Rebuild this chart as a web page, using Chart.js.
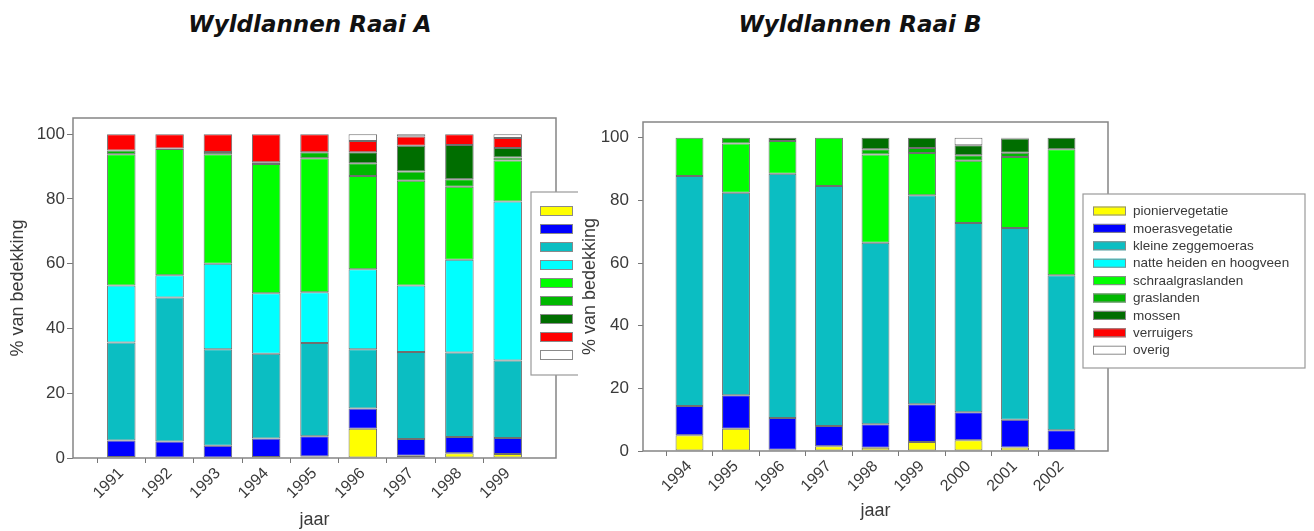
<!DOCTYPE html>
<html>
<head>
<meta charset="utf-8">
<script src="https://cdn.jsdelivr.net/npm/chart.js@4.4.1/dist/chart.umd.min.js"></script>
<style>
  html, body { margin: 0; padding: 0; background: #fff; }
  #wrap { position: relative; width: 1314px; height: 531px; overflow: hidden; }
  .title { position: absolute; top: 11px; line-height: 26px; font: italic bold 23px "DejaVu Sans", sans-serif; color: #111; white-space: nowrap; transform: translateX(-50%); }
  #cA { position: absolute; left: 0; top: 0; }
  #cB { position: absolute; left: 578px; top: 0; }
</style>
</head>
<body>
<div id="wrap">
  <div class="title" style="left:310px">Wyldlannen Raai A</div>
  <div class="title" style="left:860px">Wyldlannen Raai B</div>
  <canvas id="cA" width="578" height="531"></canvas>
  <canvas id="cB" width="736" height="531"></canvas>
</div>
<script>
// ---- categories (vegetation types, bottom to top of each stack) ----
const categories = ['pioniervegetatie', 'moerasvegetatie', 'kleine zeggemoeras', 'natte heiden en hoogveen',
                    'schraalgraslanden', 'graslanden', 'mossen', 'verruigers', 'overig'];
const colors = ['#FFFF00', '#0000FF', '#0BBEC2', '#00FFFF', '#00FF00', '#00B800', '#006E00', '#FF0000', '#FFFFFF'];

// ---- Raai A ----
const yearsA = ['1991', '1992', '1993', '1994', '1995', '1996', '1997', '1998', '1999'];
const A_pionier = [0.3, 0, 0, 0.3, 0.5, 9.0, 0.7, 1.5, 1.2];
const A_moeras  = [5.1, 5.1, 3.8, 5.7, 6.2, 6.3, 5.2, 5.0, 5.0];
const A_kleine  = [30.3, 44.5, 29.8, 26.2, 28.8, 18.3, 26.8, 26.1, 23.9];
const A_natte   = [17.6, 6.8, 26.4, 18.7, 15.7, 24.7, 20.6, 28.6, 49.1];
const A_schraal = [40.5, 39.0, 33.8, 39.9, 41.4, 28.8, 32.3, 22.6, 12.7];
const A_gras    = [1.2, 0.2, 0.7, 0.5, 1.8, 3.9, 2.9, 2.3, 0.9];
const A_mossen  = [0, 0, 0, 0, 0, 3.4, 7.9, 10.6, 2.9];
const A_verr    = [5.0, 4.4, 5.5, 8.7, 5.6, 3.5, 2.9, 3.3, 3.1];
const A_overig  = [0, 0, 0, 0, 0, 2.1, 0.7, 0, 1.2];

// ---- Raai B ----
const yearsB = ['1994', '1995', '1996', '1997', '1998', '1999', '2000', '2001', '2002'];
const B_pionier = [5.0, 7.1, 0.4, 1.5, 1.0, 2.9, 3.4, 1.1, 0.2];
const B_moeras  = [9.4, 10.7, 10.1, 6.5, 7.5, 12.0, 9.0, 8.9, 6.4];
const B_kleine  = [73.4, 64.6, 78.0, 76.6, 58.0, 66.7, 60.4, 61.2, 49.5];
const B_natte   = [0, 0, 0, 0, 0, 0, 0, 0, 0];
const B_schraal = [12.2, 15.7, 10.4, 15.4, 28.1, 13.5, 19.8, 22.6, 40.2];
const B_gras    = [0, 1.9, 0, 0, 1.7, 1.6, 1.8, 1.4, 0];
const B_mossen  = [0, 0, 1.1, 0, 3.7, 3.3, 3.2, 4.5, 3.7];
const B_verr    = [0, 0, 0, 0, 0, 0, 0, 0, 0];
const B_overig  = [0, 0, 0, 0, 0, 0, 2.4, 0.3, 0];

const yTicks = [0, 20, 40, 60, 80, 100];

const seriesA = [A_pionier, A_moeras, A_kleine, A_natte, A_schraal, A_gras, A_mossen, A_verr, A_overig];
const seriesB = [B_pionier, B_moeras, B_kleine, B_natte, B_schraal, B_gras, B_mossen, B_verr, B_overig];

const FONT = '"Liberation Sans", Arial, sans-serif';
const TXT = '#3a3a3a';

const decor = {
  id: 'decor',
  afterDatasetsDraw(chart) {
    const a = chart.chartArea, ctx = chart.ctx;
    ctx.save();
    ctx.strokeStyle = '#858585';
    ctx.lineWidth = 1.5;
    ctx.strokeRect(a.left, a.top, a.right - a.left, a.bottom - a.top);
    ctx.restore();
  },
  afterDraw(chart, args, o) {
    const ctx = chart.ctx;
    ctx.save();
    ctx.fillStyle = '#fff';
    ctx.fillRect(o.x, o.y, o.w, o.h);
    ctx.strokeStyle = '#9a9a9a';
    ctx.lineWidth = 1.2;
    ctx.strokeRect(o.x, o.y, o.w, o.h);
    chart.data.datasets.forEach((ds, i) => {
      const y = o.rowY + i * o.step;
      ctx.fillStyle = ds.backgroundColor;
      ctx.fillRect(o.swX, y - o.swH / 2, o.swW, o.swH);
      ctx.strokeStyle = '#8a8a8a';
      ctx.lineWidth = 1;
      ctx.strokeRect(o.swX + 0.5, y - o.swH / 2 + 0.5, o.swW - 1, o.swH - 1);
      if (o.text) {
        ctx.fillStyle = TXT;
        ctx.font = '13.5px ' + FONT;
        ctx.textBaseline = 'middle';
        ctx.fillText(ds.label, o.textX, y + 0.5);
      }
    });
    ctx.restore();
  }
};

function makeChart(id, years, series, g) {
  const datasets = categories.map((name, k) => ({
    label: name,
    data: series[k].map((v, i) => ({ x: i + 1, y: v })),
    backgroundColor: colors[k],
    borderColor: 'rgba(50,50,50,0.7)',
    borderWidth: 1,
    borderSkipped: false,
    categoryPercentage: 1,
    barPercentage: g.barPct
  }));
  return new Chart(document.getElementById(id), {
    type: 'bar',
    data: { datasets },
    plugins: [decor],
    options: {
      responsive: false,
      animation: false,
      layout: { padding: { top: g.top, right: g.right, left: 0, bottom: 0 } },
      plugins: {
        legend: { display: false },
        tooltip: { enabled: false },
        decor: g.legend
      },
      scales: {
        x: {
          type: 'linear',
          stacked: true,
          offset: false,
          min: 0,
          max: years.length + 1,
          afterFit: s => { s.height = g.xH; },
          afterBuildTicks: s => { s.ticks = Array.from({ length: years.length + 2 }, (_, i) => ({ value: i })); },
          ticks: {
            autoSkip: false,
            minRotation: 45,
            maxRotation: 45,
            padding: 1,
            color: TXT,
            font: { family: FONT, size: 16 },
            callback: v => (v >= 1 && v <= years.length) ? years[v - 1] : ''
          },
          grid: {
            drawOnChartArea: false,
            drawTicks: true,
            tickLength: 5,
            tickColor: c => (c.tick && c.tick.value >= 1 && c.tick.value <= years.length) ? '#777' : 'rgba(0,0,0,0)'
          },
          border: { display: false },
          title: { display: true, text: 'jaar', color: TXT, font: { family: FONT, size: 18 }, padding: { top: 0, bottom: g.xTitlePad } }
        },
        y: {
          stacked: true,
          min: 0,
          max: 105,
          afterFit: s => { s.width = g.yW; },
          afterBuildTicks: s => { s.ticks = yTicks.map(v => ({ value: v })); },
          ticks: { color: TXT, padding: g.yPad, font: { family: FONT, size: 17 } },
          grid: { drawOnChartArea: false, drawTicks: true, tickLength: g.yTick, tickColor: '#777' },
          border: { display: false },
          title: { display: true, text: '% van bedekking', color: TXT, font: { family: FONT, size: 18 }, padding: { top: g.yTitlePad, bottom: 0 } }
        }
      }
    }
  });
}

makeChart('cA', yearsA, seriesA, {
  top: 118, right: 22, xH: 73, yW: 73, yPad: 2, yTick: 6, barPct: 0.59, xTitlePad: 0, yTitlePad: 7,
  legend: { x: 531, y: 192, w: 80, h: 183, rowY: 211, step: 18, swX: 540, swW: 33, swH: 10, text: false }
});
makeChart('cB', yearsB, seriesB, {
  top: 122, right: 206, xH: 80, yW: 65, yPad: 9, yTick: 5, barPct: 0.6, xTitlePad: 9, yTitlePad: 1,
  legend: { x: 505, y: 194, w: 222, h: 174, rowY: 211, step: 17.4, swX: 515, swW: 33, swH: 9, text: true, textX: 555 }
});
</script>
</body>
</html>
